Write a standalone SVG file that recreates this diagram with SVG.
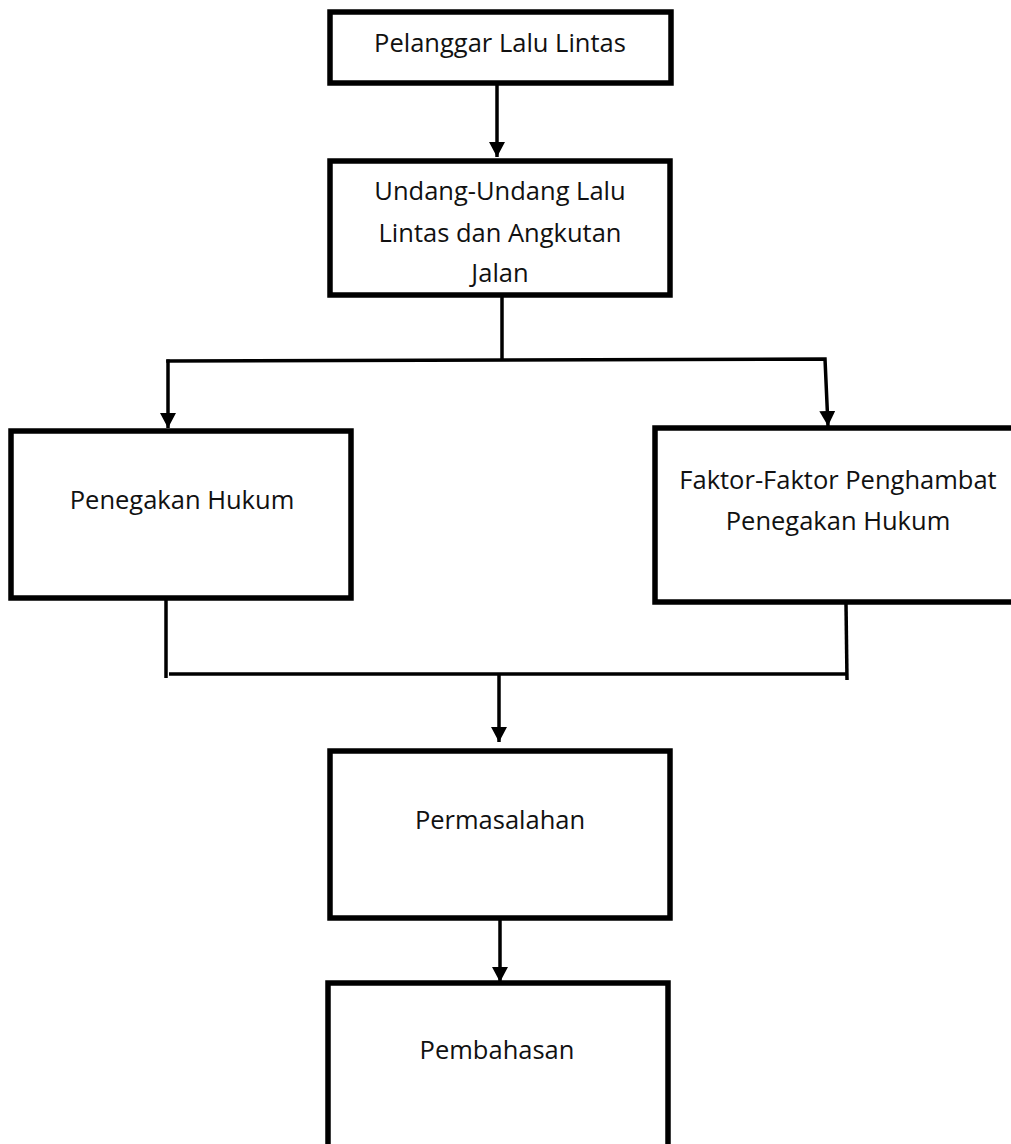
<svg xmlns="http://www.w3.org/2000/svg" width="1011" height="1144" viewBox="0 0 1011 1144">
<style>
.box{fill:#fff;stroke:#000;stroke-width:5.5}
.lbl{font-family:"Open Sans","Noto Sans",sans-serif;font-size:25.5px;fill:#111;text-anchor:middle}
.ln{fill:none;stroke:#000;stroke-width:3.5}
</style>
<defs>
<marker id="ah" markerUnits="userSpaceOnUse" markerWidth="15" markerHeight="16" viewBox="0 0 15 16" refX="15" refY="8" orient="auto">
<path d="M0,0 L15,8 L0,16 z" fill="#000"/>
</marker>
</defs>
<rect width="1011" height="1144" fill="#fff"/>
<g id="connectors">
<line class="ln" x1="497" y1="85" x2="497" y2="157" marker-end="url(#ah)"/>
<line class="ln" x1="502" y1="297" x2="502" y2="360"/>
<polyline class="ln" points="166.25,361 825,359 828,426" marker-end="url(#ah)"/>
<line class="ln" x1="168" y1="359.5" x2="168" y2="428" marker-end="url(#ah)"/>
<line class="ln" x1="166" y1="592" x2="166" y2="678"/>
<line class="ln" x1="169" y1="674" x2="846" y2="674"/>
<line class="ln" x1="846" y1="604" x2="847" y2="680"/>
<line class="ln" x1="499" y1="674" x2="499" y2="742" marker-end="url(#ah)"/>
<line class="ln" x1="500" y1="920" x2="500" y2="982" marker-end="url(#ah)"/>
</g>
<g id="n1">
<rect class="box" x="330" y="12" width="341" height="71"/>
<text class="lbl" x="500" y="52">Pelanggar Lalu Lintas</text>
</g>
<g id="n2">
<rect class="box" x="330" y="161" width="340" height="134"/>
<text class="lbl" x="500" y="200">Undang-Undang Lalu</text>
<text class="lbl" x="500" y="242">Lintas dan Angkutan</text>
<text class="lbl" x="500" y="282">Jalan</text>
</g>
<g id="n3">
<rect class="box" x="11" y="431" width="340" height="167"/>
<text class="lbl" x="182" y="509">Penegakan Hukum</text>
</g>
<g id="n4">
<rect class="box" x="655" y="428" width="370" height="174"/>
<text class="lbl" x="838" y="489">Faktor-Faktor Penghambat</text>
<text class="lbl" x="838" y="530">Penegakan Hukum</text>
</g>
<g id="n5">
<rect class="box" x="330" y="751" width="340" height="167"/>
<text class="lbl" x="500" y="829">Permasalahan</text>
</g>
<g id="n6">
<rect class="box" x="328" y="983" width="340" height="180"/>
<text class="lbl" x="497" y="1059">Pembahasan</text>
</g>
</svg>
